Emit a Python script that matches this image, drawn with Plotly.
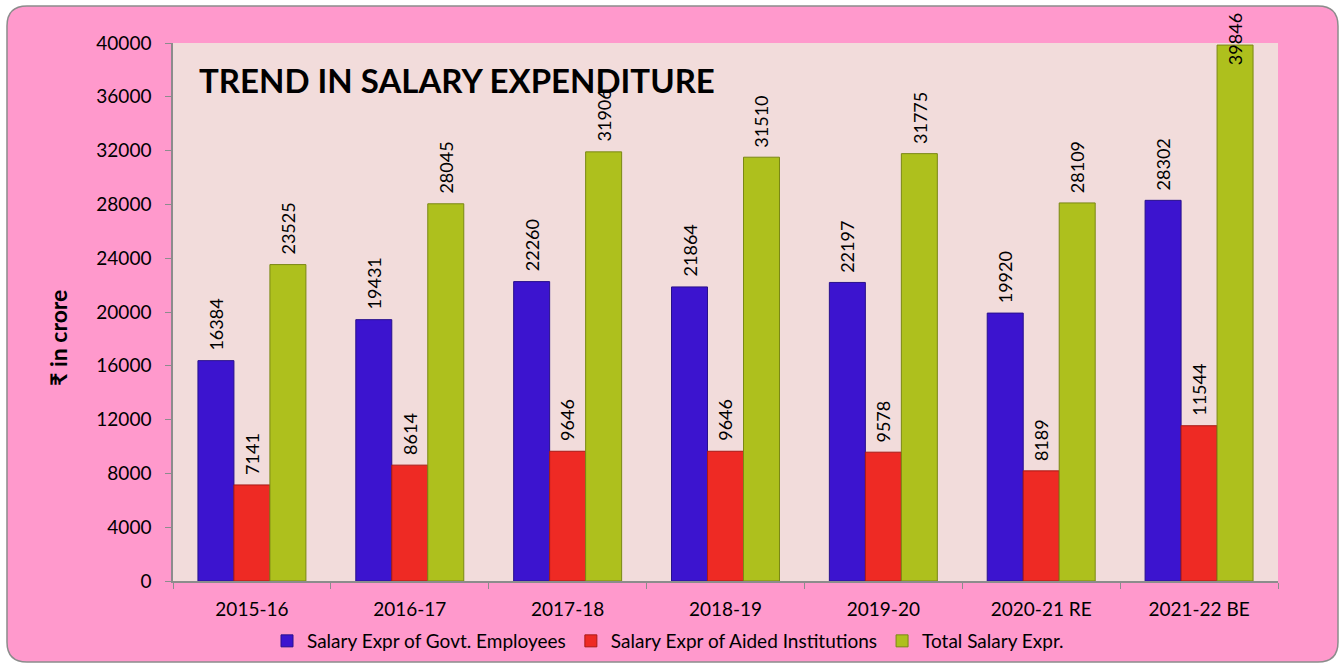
import plotly.graph_objects as go

categories = ["2015-16", "2016-17", "2017-18", "2018-19", "2019-20", "2020-21 RE", "2021-22 BE"]
govt_employees = [16384, 19431, 22260, 21864, 22197, 19920, 28302]
aided_institutions = [7141, 8614, 9646, 9646, 9578, 8189, 11544]
total_salary = [23525, 28045, 31906, 31510, 31775, 28109, 39846]
series_names = ["Salary Expr of Govt. Employees", "Salary Expr of Aided Institutions", "Total Salary Expr."]
y_ticks = [0, 4000, 8000, 12000, 16000, 20000, 24000, 28000, 32000, 36000, 40000]

W, H = 1343, 666
L, R, T, B = 173, 1278, 43, 581
FONT = "Lato, 'Open Sans', sans-serif"
BARGAP = 0.316

colors = ["#3C14CF", "#EE2A24", "#AEC01D"]
edges = ["#28108C", "#A81A16", "#7A8714"]
series = [govt_employees, aided_institutions, total_salary]


def px(x):
    return (x - L) / (R - L)


def py(y):
    return (B - y) / (B - T)


fig = go.Figure()
for name, vals, c, e in zip(series_names, series, colors, edges):
    fig.add_trace(go.Bar(
        x=categories, y=vals, name=name,
        marker=dict(color=c, line=dict(color=e, width=1)),
    ))

# data labels (rotated) as annotations
annotations = []
n = len(series)
for k, vals in enumerate(series):
    off = (k - (n - 1) / 2) * (1 - BARGAP) / n
    for i, v in enumerate(vals):
        near_top = v > y_ticks[-1] * 0.97
        annotations.append(dict(
            x=i + off, y=v, xref="x", yref="y",
            text=str(v), textangle=-90, showarrow=False,
            xanchor="center", yanchor="bottom",
            yshift=(-22 if near_top else 8),
            font=dict(family=FONT, size=18, color="#000000"),
        ))

annotations.append(dict(
    x=px(197), y=py(80), xref="paper", yref="paper",
    text="<b>TREND IN SALARY EXPENDITURE</b>", showarrow=False,
    xanchor="left", yanchor="middle",
    font=dict(family=FONT, size=33, color="#000000"),
))
annotations.append(dict(
    x=px(58), y=py(338), xref="paper", yref="paper",
    text="<b>₹ in crore</b>", showarrow=False, textangle=-90,
    xanchor="center", yanchor="middle",
    font=dict(family=FONT, size=23, color="#000000"),
))

# rounded outer frame
x0, y0, x1, y1, rad = 7, 6, 1338, 662, 20
pts = [
    ("M", (x0 + rad, y0)), ("L", (x1 - rad, y0)), ("Q", (x1, y0), (x1, y0 + rad)),
    ("L", (x1, y1 - rad)), ("Q", (x1, y1), (x1 - rad, y1)),
    ("L", (x0 + rad, y1)), ("Q", (x0, y1), (x0, y1 - rad)),
    ("L", (x0, y0 + rad)), ("Q", (x0, y0), (x0 + rad, y0)),
]
path = ""
for seg in pts:
    cmd = seg[0]
    coords = " ".join(f"{px(a):.5f},{py(b):.5f}" for a, b in seg[1:])
    path += f"{cmd} {coords} "
path += "Z"

shapes = [
    dict(type="path", path=path, xref="paper", yref="paper", layer="below",
         fillcolor="#FF99CC", line=dict(color="#8C8C8C", width=1.5)),
    dict(type="rect", x0=0, x1=1, y0=0, y1=1, xref="paper", yref="paper", layer="below",
         fillcolor="#F2DCDB", line=dict(width=0)),
]

fig.update_layout(
    width=W, height=H,
    margin=dict(l=L, r=W - R, t=T, b=H - B, autoexpand=False),
    paper_bgcolor="#FFFFFF", plot_bgcolor="rgba(0,0,0,0)",
    barmode="group", bargap=BARGAP, bargroupgap=0,
    font=dict(family=FONT, size=18, color="#000000"),
    showlegend=True,
    legend=dict(orientation="h", x=px(668), y=py(641), xanchor="center", yanchor="middle",
                font=dict(family=FONT, size=19, color="#000000"), bgcolor="rgba(0,0,0,0)",
                itemwidth=30, tracegroupgap=0),
    annotations=annotations,
    shapes=shapes,
)
fig.update_xaxes(
    showline=True, linecolor="#8C8C8C", linewidth=1.5,
    ticks="outside", tickson="boundaries", ticklen=6, tickcolor="#8C8C8C",
    showgrid=False, tickfont=dict(family=FONT, size=19, color="#000000"),
    ticklabelstandoff=10,
)
fig.update_yaxes(
    range=[0, 40000], tickvals=y_ticks, ticktext=[str(t) for t in y_ticks],
    showline=True, linecolor="#8C8C8C", linewidth=1.5,
    ticks="outside", ticklen=6, tickcolor="#8C8C8C",
    showgrid=False, zeroline=False, tickfont=dict(family=FONT, size=19, color="#000000"),
    ticklabelstandoff=10,
)

fig.write_html(
    "out.html",
    config={"displayModeBar": False},
    post_script="document.body.style.margin='0';document.body.style.overflow='hidden';",
)
